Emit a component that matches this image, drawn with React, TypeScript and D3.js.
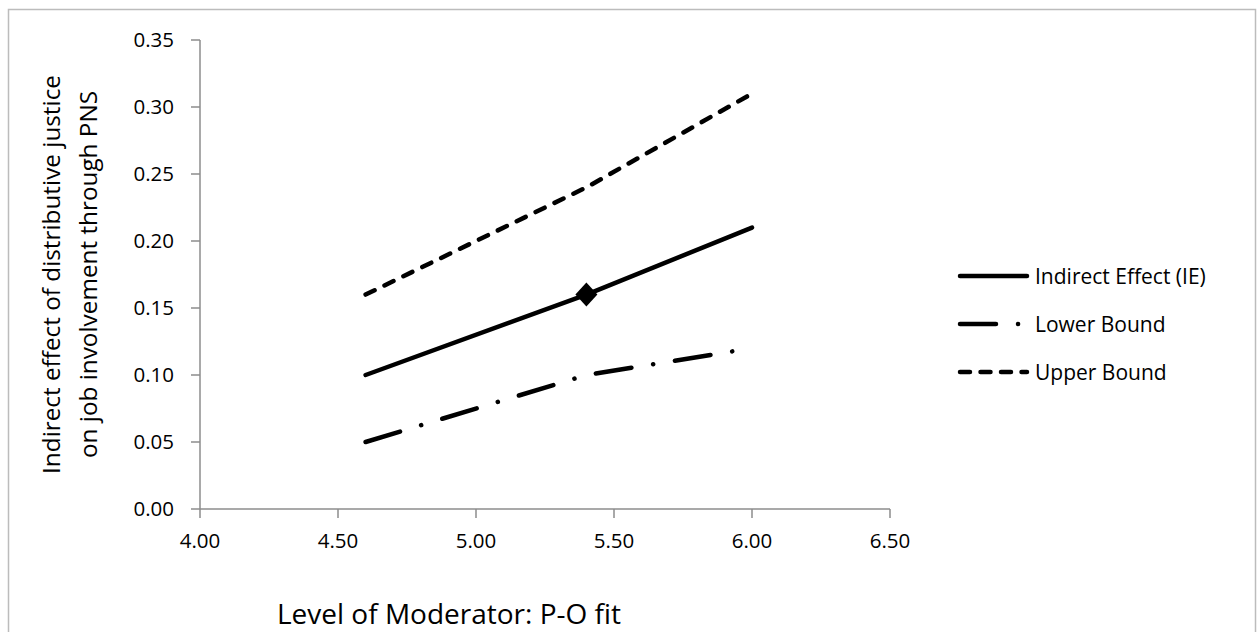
import React from "react";
import * as d3 from "d3";

const moderatorLevels = [4.6, 5.4, 6.0];
const indirectEffect = [0.10, 0.16, 0.21];
const lowerBound = [0.05, 0.10, 0.12];
const upperBound = [0.16, 0.24, 0.31];
const xTicks = [4.0, 4.5, 5.0, 5.5, 6.0, 6.5];
const yTicks = [0, 0.05, 0.1, 0.15, 0.2, 0.25, 0.3, 0.35];
const seriesNames = ["Indirect Effect (IE)", "Lower Bound", "Upper Bound"];
const markerIndex = 1;

const FONT = "'Open Sans', Lato, sans-serif";

export default function App() {
  const W = 1260, H = 632;
  const x = d3.scaleLinear().domain([4.0, 6.5]).range([200, 890]);
  const y = d3.scaleLinear().domain([0, 0.35]).range([509, 40]);
  const line = d3.line<[number, number]>().x(d => x(d[0])).y(d => y(d[1]));
  const mk = (vals: number[]) => moderatorLevels.map((m, i) => [m, vals[i]] as [number, number]);

  const series = [
    { name: seriesNames[0], vals: indirectEffect, dash: "none" },
    { name: seriesNames[1], vals: lowerBound, dash: "36 22 0.1 22" },
    { name: seriesNames[2], vals: upperBound, dash: "10 11" },
  ];
  const legendY = [276, 324, 372];
  const legendDash = ["none", "36 22 0.1 30", "10 10.5"];
  const axisColor = "#8c8c8c";
  const mx = x(moderatorLevels[markerIndex]);
  const my = y(indirectEffect[markerIndex]);

  return (
    <svg width={W} height={H} style={{ position: "absolute", left: 0, top: 0, background: "#fff" }}>
      <rect x={8.5} y={9.5} width={1247} height={640} fill="#fff" stroke="#bcbcbc" strokeWidth={1.5} />
      {/* axes */}
      <line x1={200} x2={200} y1={y(0.35)} y2={y(0)} stroke={axisColor} strokeWidth={1.5} />
      <line x1={200} x2={890} y1={y(0)} y2={y(0)} stroke={axisColor} strokeWidth={1.5} />
      {yTicks.map(t => (
        <g key={"y" + t}>
          <line x1={191} x2={200} y1={y(t)} y2={y(t)} stroke={axisColor} strokeWidth={1.5} />
          <text x={174} y={y(t)} dy="0.36em" textAnchor="end" fontFamily={FONT} fontSize={20.5} fill="#000">{t.toFixed(2)}</text>
        </g>
      ))}
      {xTicks.map(t => (
        <g key={"x" + t}>
          <line x1={x(t)} x2={x(t)} y1={y(0)} y2={y(0) + 9} stroke={axisColor} strokeWidth={1.5} />
          <text x={x(t)} y={548} textAnchor="middle" fontFamily={FONT} fontSize={20.5} fill="#000">{t.toFixed(2)}</text>
        </g>
      ))}
      {/* series */}
      {series.map(s => (
        <path key={s.name} d={line(mk(s.vals)) || ""} fill="none" stroke="#000" strokeWidth={4.5}
          strokeDasharray={s.dash} strokeLinecap="round" strokeLinejoin="round" />
      ))}
      <path d={`M${mx},${my - 12}L${mx + 11},${my}L${mx},${my + 12}L${mx - 11},${my}Z`} fill="#000" />
      {/* legend */}
      {series.map((s, i) => (
        <g key={"lg" + i}>
          <line x1={960} x2={1027} y1={legendY[i]} y2={legendY[i]} stroke="#000" strokeWidth={4.5}
            strokeDasharray={legendDash[i]} strokeLinecap="round" />
          <text x={1035} y={legendY[i]} dy="0.36em" fontFamily={FONT} fontSize={21} fill="#000">{s.name}</text>
        </g>
      ))}
      {/* titles */}
      <text x={449} y={624} textAnchor="middle" fontFamily={FONT} fontSize={28} fill="#000">Level of Moderator: P-O fit</text>
      <g transform={`translate(60,${(y(0) + y(0.35)) / 2}) rotate(-90)`}>
        <text x={0} y={0} textAnchor="middle" fontFamily={FONT} fontSize={24.3} fill="#000">Indirect effect of distributive justice</text>
        <text x={0} y={37} textAnchor="middle" fontFamily={FONT} fontSize={24.3} fill="#000">on job involvement through PNS</text>
      </g>
    </svg>
  );
}
